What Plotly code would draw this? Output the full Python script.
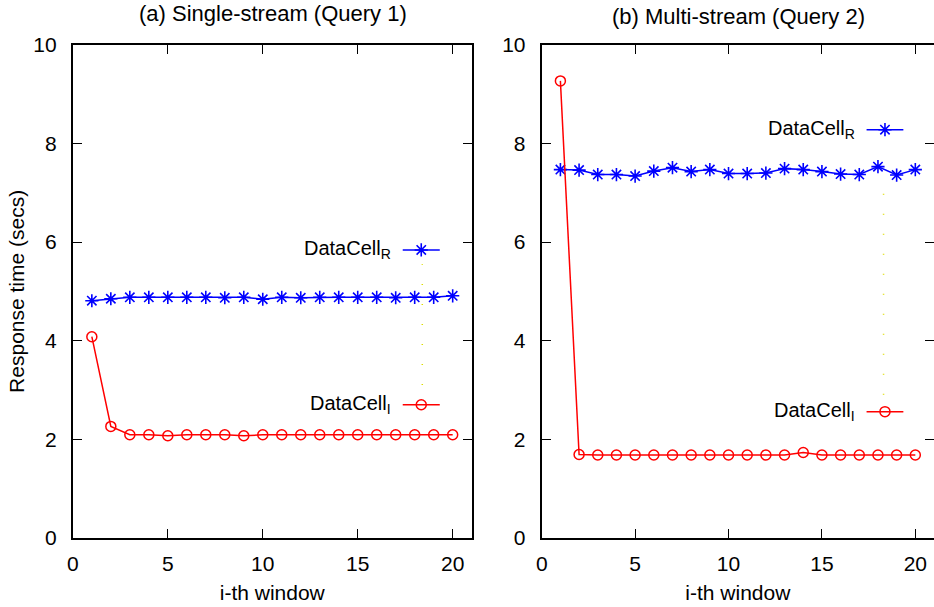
import plotly.graph_objects as go

windows = list(range(1, 21))

q1_remote = [4.81, 4.85, 4.88, 4.88, 4.88, 4.88, 4.88, 4.87, 4.88, 4.84,
             4.88, 4.87, 4.88, 4.88, 4.88, 4.88, 4.87, 4.88, 4.88, 4.91]
q1_incr = [4.08, 2.26, 2.09, 2.09, 2.07, 2.09, 2.09, 2.09, 2.07, 2.09,
           2.09, 2.09, 2.09, 2.09, 2.09, 2.09, 2.09, 2.09, 2.09, 2.09]

q2_remote = [7.47, 7.46, 7.37, 7.37, 7.34, 7.44, 7.51, 7.43, 7.47, 7.39,
             7.39, 7.40, 7.49, 7.47, 7.43, 7.38, 7.37, 7.53, 7.36, 7.47]
q2_incr = [9.27, 1.69, 1.68, 1.68, 1.68, 1.68, 1.68, 1.68, 1.68, 1.68,
           1.68, 1.68, 1.68, 1.73, 1.68, 1.68, 1.68, 1.68, 1.68, 1.68]

titles = ["(a) Single-stream (Query 1)", "(b) Multi-stream (Query 2)"]
name_r = "DataCell<sub>R</sub>"
name_i = "DataCell<sub>I</sub>"
x_title = "i-th window"
y_title = "Response time (secs)"
y_ticks = [0, 2, 4, 6, 8, 10]
x_ticks = [0, 5, 10, 15, 20]

FONT = "Liberation Sans, Arial, sans-serif"
BLUE = "#0000ff"
RED = "#ff0000"
FS = 21
FS_TITLE = 22
FS_KEY = 20

fig = go.Figure()

panels = [
    dict(xa="x", ya="y", r=q1_remote, i=q1_incr,
         key_r_y=5.84, key_i_y=2.70, key_x0=17.37, key_x1=19.32, dot_x=18.4, dot_y=(3.1, 5.55)),
    dict(xa="x2", ya="y2", r=q2_remote, i=q2_incr,
         key_r_y=8.28, key_i_y=2.56, key_x0=17.39, key_x1=19.36, dot_x=18.3, dot_y=(2.9, 7.0)),
]

for p in panels:
    fig.add_trace(go.Scatter(x=windows, y=p["r"], mode="lines+markers", xaxis=p["xa"], yaxis=p["ya"],
                             line=dict(color=BLUE, width=1.5),
                             marker=dict(symbol="asterisk-open", size=11, line=dict(color=BLUE, width=1.6)),
                             showlegend=False, name="DataCell_R"))
    fig.add_trace(go.Scatter(x=windows, y=p["i"], mode="lines+markers", xaxis=p["xa"], yaxis=p["ya"],
                             line=dict(color=RED, width=1.5),
                             marker=dict(symbol="circle-open", size=10, line=dict(color=RED, width=1.5)),
                             showlegend=False, name="DataCell_I"))
    kx = [p["key_x0"], (p["key_x0"] + p["key_x1"]) / 2, p["key_x1"]]
    fig.add_trace(go.Scatter(x=kx, y=[p["key_r_y"]] * 3, mode="lines+markers", xaxis=p["xa"], yaxis=p["ya"],
                             line=dict(color=BLUE, width=1.5),
                             marker=dict(symbol="asterisk-open", size=11, line=dict(color=BLUE, width=1.6),
                                         opacity=[0, 1, 0]),
                             showlegend=False, hoverinfo="skip"))
    fig.add_trace(go.Scatter(x=kx, y=[p["key_i_y"]] * 3, mode="lines+markers", xaxis=p["xa"], yaxis=p["ya"],
                             line=dict(color=RED, width=1.5),
                             marker=dict(symbol="circle-open", size=10, line=dict(color=RED, width=1.5),
                                         opacity=[0, 1, 0]),
                             showlegend=False, hoverinfo="skip"))
    fig.add_annotation(x=p["key_x0"], y=p["key_r_y"], xref=p["xa"], yref=p["ya"], text=name_r, xshift=-10,
                       showarrow=False, xanchor="right", yanchor="middle", font=dict(size=FS_KEY, color="#000"))
    fig.add_annotation(x=p["key_x0"], y=p["key_i_y"], xref=p["xa"], yref=p["ya"], text=name_i, xshift=-10,
                       showarrow=False, xanchor="right", yanchor="middle", font=dict(size=FS_KEY, color="#000"))
    fig.add_shape(type="line", x0=p["dot_x"], x1=p["dot_x"], y0=p["dot_y"][0], y1=p["dot_y"][1],
                  xref=p["xa"], yref=p["ya"], line=dict(color="#dddd00", width=1.5, dash="1px,19px"))

axis_common = dict(showline=True, linecolor="black", linewidth=2, mirror="allticks",
                   ticks="inside", ticklen=9, tickwidth=1.2, tickcolor="black", automargin=False,
                   showgrid=False, zeroline=False, tickfont=dict(size=FS, color="black"))

fig.update_layout(
    width=934, height=607,
    margin=dict(l=0, r=0, t=0, b=0),
    plot_bgcolor="white", paper_bgcolor="white",
    font=dict(family=FONT, size=FS, color="black"),
    xaxis=dict(domain=[0.078, 0.505], range=[0, 21], tickvals=x_ticks, anchor="y", ticklabelstandoff=6,
               title=dict(text=x_title, standoff=11, font=dict(size=FS)), **axis_common),
    yaxis=dict(domain=[0.114, 0.926], range=[0, 10], tickvals=y_ticks, anchor="x", ticklabelstandoff=10,
               title=dict(text=y_title, standoff=3, font=dict(size=FS)), **axis_common),
    xaxis2=dict(domain=[0.580, 1.0], range=[0, 21], tickvals=x_ticks, anchor="y2", ticklabelstandoff=6,
                title=dict(text=x_title, standoff=11, font=dict(size=FS)), **axis_common),
    yaxis2=dict(domain=[0.114, 0.926], range=[0, 10], tickvals=y_ticks, anchor="x2", ticklabelstandoff=10,
                **axis_common),
)

fig.add_annotation(x=0.292, y=0.978, xref="paper", yref="paper", text=titles[0], showarrow=False,
                   font=dict(size=FS_TITLE), xanchor="center", yanchor="middle")
fig.add_annotation(x=0.791, y=0.973, xref="paper", yref="paper", text=titles[1], showarrow=False,
                   font=dict(size=FS_TITLE), xanchor="center", yanchor="middle")

fig.write_html("out.html", config={"displayModeBar": False},
               post_script="document.body.style.margin='0';document.body.style.overflow='hidden';")
